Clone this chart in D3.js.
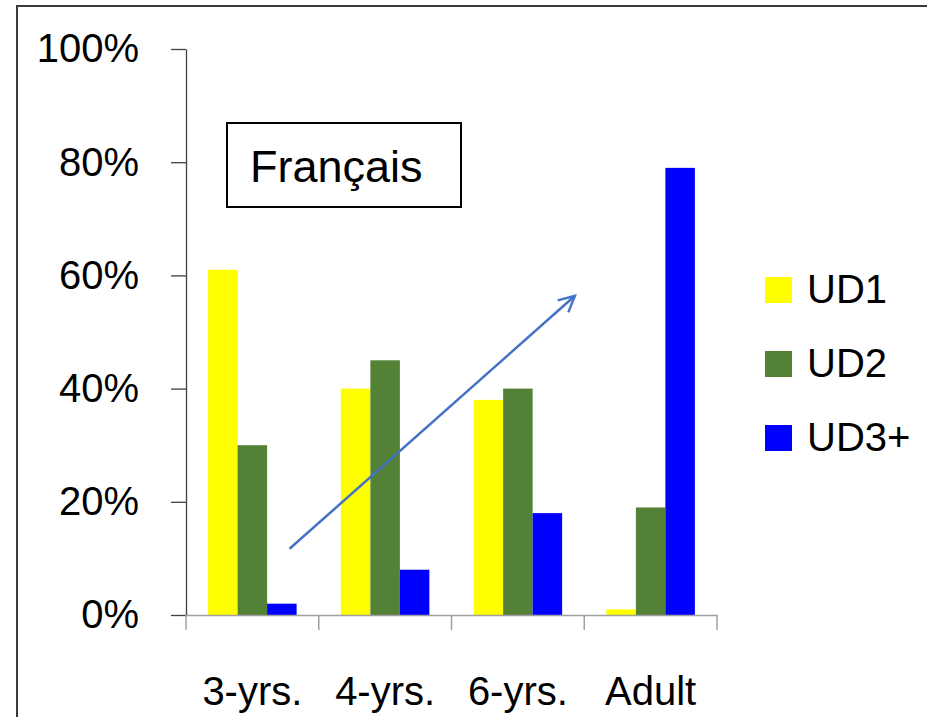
<!DOCTYPE html>
<html>
  <head>
    <title>Français UD</title>
    <script src="https://d3js.org/d3.v7.min.js"></script>
    <style>
      body { margin: 0; background: #fff; }
      text { font-family: "Liberation Sans", Arial, sans-serif; }
    </style>
  </head>
  <body>
    <div id="chart"></div>
    <script>
// Data
const categories = ["3-yrs.", "4-yrs.", "6-yrs.", "Adult"];
const seriesNames = ["UD1", "UD2", "UD3+"];
const seriesColors = ["#ffff00", "#538135", "#0000ff"];
const ud1 = [0.61, 0.40, 0.38, 0.01];
const ud2 = [0.30, 0.45, 0.40, 0.19];
const ud3 = [0.02, 0.08, 0.18, 0.79];
const yTicks = [0, 0.2, 0.4, 0.6, 0.8, 1.0];
const titleText = "Français";
// trend arrow: [category, fraction across band, value]
const arrowPts = [["3-yrs.", 0.78, 0.117], ["6-yrs.", 0.93, 0.564]];

const width = 927;
const height = 717;
const marginLeft = 186;
const plotRight = 717;
const plotTop = 49;
const plotBottom = 615;

const values = [ud1, ud2, ud3];
const rows = categories.map((c, i) => ({ cat: c, vals: seriesNames.map((s, j) => ({ s, j, v: values[j][i] })) }));

function createChart() {
  const svg = d3.select("#chart").append("svg")
    .attr("width", width)
    .attr("height", height)
    .attr("viewBox", [0, 0, width, height]);

  svg.append("rect").attr("width", width).attr("height", height).attr("fill", "#fff");

  // outer frame
  svg.append("rect")
    .attr("x", 17).attr("y", 6)
    .attr("width", width + 20).attr("height", height + 20)
    .attr("fill", "none")
    .attr("stroke", "#3a3a3a")
    .attr("stroke-width", 2);

  const x = d3.scaleBand()
    .domain(categories)
    .range([marginLeft, plotRight])
    .padding(0);

  const xSub = d3.scaleBand()
    .domain(seriesNames)
    .range([0, x.bandwidth()])
    .paddingInner(0)
    .paddingOuter(0.75);

  const y = d3.scaleLinear()
    .domain([0, 1])
    .range([plotBottom, plotTop]);

  // bars
  svg.append("g")
    .selectAll("g")
    .data(rows)
    .join("g")
    .attr("transform", d => `translate(${x(d.cat)},0)`)
    .selectAll("rect")
    .data(d => d.vals)
    .join("rect")
    .attr("x", d => xSub(d.s))
    .attr("y", d => y(d.v))
    .attr("width", xSub.bandwidth())
    .attr("height", d => y(0) - y(d.v))
    .attr("fill", d => seriesColors[d.j]);

  // Y axis
  const yAxis = svg.append("g")
    .attr("transform", `translate(${marginLeft},0)`)
    .call(d3.axisLeft(y).tickValues(yTicks).tickFormat(d3.format(".0%")).tickSize(15).tickSizeOuter(0).tickPadding(32));
  yAxis.select(".domain").attr("stroke", "#404040").attr("stroke-width", 1.3);
  yAxis.selectAll(".tick line").attr("stroke", "#404040").attr("stroke-width", 1.3);
  yAxis.selectAll("text").attr("font-size", 40).attr("fill", "#000")
    .attr("font-family", "Liberation Sans, Arial, sans-serif");

  // X axis
  const xAxis = svg.append("g")
    .attr("transform", `translate(0,${plotBottom})`)
    .call(d3.axisBottom(x).tickSize(0).tickSizeOuter(0).tickPadding(62));
  xAxis.select(".domain").attr("stroke", "#a0a0a0").attr("stroke-width", 1.5);
  xAxis.selectAll("text").attr("font-size", 40).attr("fill", "#000")
    .attr("font-family", "Liberation Sans, Arial, sans-serif");

  // category separators
  const bounds = categories.map(c => x(c)).concat([x.range()[1]]);
  svg.append("g")
    .selectAll("line")
    .data(bounds)
    .join("line")
    .attr("x1", d => d).attr("x2", d => d)
    .attr("y1", plotBottom).attr("y2", plotBottom + 15)
    .attr("stroke", "#a0a0a0")
    .attr("stroke-width", 1.5);

  // title box
  svg.append("rect")
    .attr("x", 227).attr("y", 123)
    .attr("width", 234).attr("height", 84)
    .attr("fill", "#fff")
    .attr("stroke", "#000")
    .attr("stroke-width", 2);
  svg.append("text")
    .attr("x", 250).attr("y", 182)
    .attr("font-size", 45)
    .attr("fill", "#000")
    .text(titleText);

  // legend
  const legend = svg.append("g")
    .selectAll("g")
    .data(seriesNames)
    .join("g")
    .attr("transform", (d, i) => `translate(765,${277 + i * 74})`);
  legend.append("rect")
    .attr("width", 27).attr("height", 26)
    .attr("fill", (d, i) => seriesColors[i]);
  legend.append("text")
    .attr("x", 42).attr("y", 26)
    .attr("font-size", 40)
    .attr("fill", "#000")
    .text(d => d);

  // trend arrow
  const ap = arrowPts.map(([c, f, v]) => [x(c) + f * x.bandwidth(), y(v)]);
  svg.append("defs").append("marker")
    .attr("id", "arrowhead")
    .attr("viewBox", "0 0 10 10")
    .attr("refX", 9).attr("refY", 5)
    .attr("markerWidth", 8).attr("markerHeight", 8)
    .attr("markerUnits", "strokeWidth")
    .attr("orient", "auto")
    .append("path")
    .attr("d", "M1,1 L9,5 L1,9")
    .attr("fill", "none")
    .attr("stroke", "#4472c4")
    .attr("stroke-width", 1.2);
  svg.append("path")
    .attr("d", d3.line()(ap))
    .attr("stroke", "#4472c4")
    .attr("stroke-width", 2.5)
    .attr("fill", "none")
    .attr("marker-end", "url(#arrowhead)");
}

createChart();
    </script>
  </body>
</html>
